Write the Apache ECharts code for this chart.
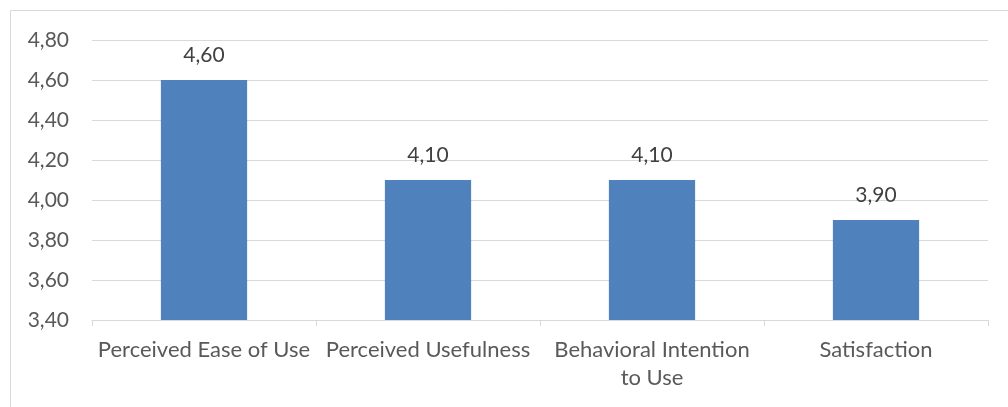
<!DOCTYPE html>
<html>
<head>
<meta charset="utf-8">
<script src="https://cdn.jsdelivr.net/npm/echarts@6/dist/echarts.min.js"></script>
<style>
  html, body { margin: 0; padding: 0; background: #fff; }
  #chart { width: 1008px; height: 407px; }
</style>
</head>
<body>
<div id="chart"></div>
<script>
// Mean scores per construct
const categories = ['Perceived Ease of Use', 'Perceived Usefulness', 'Behavioral Intention\nto Use', 'Satisfaction'];
const meanScores = [4.60, 4.10, 4.10, 3.90];
const yMin = 3.4, yMax = 4.8, yStep = 0.2;

const FONT = 'Lato';
const TEXT = '#595959';
const fmt = v => v.toFixed(2).replace('.', ',');

const chart = echarts.init(document.getElementById('chart'));
chart.setOption({
  animation: false,
  textStyle: { fontFamily: FONT },
  graphic: [
    { type: 'line', shape: { x1: 10.5, y1: 10.5, x2: 1008, y2: 10.5 }, style: { stroke: '#d9d9d9', lineWidth: 1 } },
    { type: 'line', shape: { x1: 10.5, y1: 10.5, x2: 10.5, y2: 407 }, style: { stroke: '#d9d9d9', lineWidth: 1 } }
  ],
  grid: { left: 92, right: 20, top: 40, bottom: 87, containLabel: false },
  xAxis: {
    type: 'category',
    data: categories,
    axisLine: { lineStyle: { color: '#d9d9d9', width: 1 } },
    axisTick: { show: true, alignWithLabel: false, length: 6, lineStyle: { color: '#d9d9d9' } },
    axisLabel: { color: TEXT, fontSize: 22, fontFamily: FONT, margin: 16, lineHeight: 28, interval: 0 }
  },
  yAxis: {
    type: 'value',
    min: yMin, max: yMax, interval: yStep,
    axisLine: { show: false },
    axisTick: { show: false },
    splitLine: { lineStyle: { color: '#d9d9d9', width: 1 } },
    axisLabel: { color: TEXT, fontSize: 21, fontFamily: FONT, margin: 23, formatter: v => fmt(v) }
  },
  series: [{
    type: 'bar',
    data: meanScores,
    barWidth: '38.5%',
    itemStyle: { color: '#4f81bd' },
    label: {
      show: true, position: 'top', distance: 14,
      color: '#404040', fontSize: 21, fontFamily: FONT,
      formatter: p => fmt(p.value)
    }
  }]
});
</script>
</body>
</html>
